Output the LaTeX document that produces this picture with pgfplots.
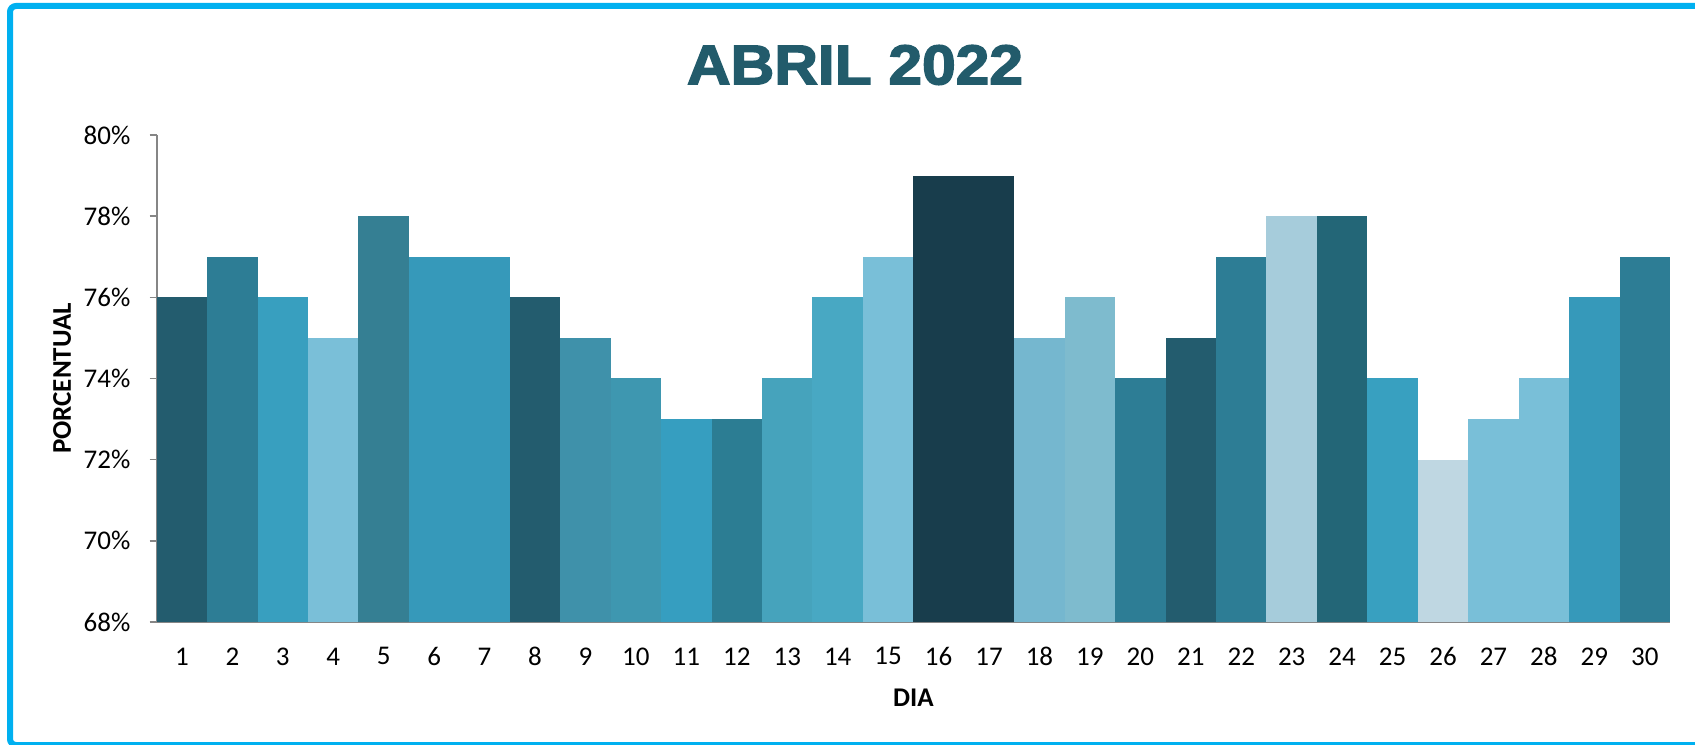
\documentclass[border=0pt]{standalone}
\usepackage{fontspec}
\setmainfont{Carlito}
\newfontfamily\titlefont[FakeBold=2.6]{Liberation Sans Bold}
\usepackage{pgfplots}
\pgfplotsset{compat=1.18}

\definecolor{frame}{HTML}{00B0F0}
\definecolor{axgray}{HTML}{868686}
\definecolor{titlec}{HTML}{225B6B}
% bar colours, one per day
\definecolor{c1}{HTML}{235C6E}
\definecolor{c2}{HTML}{2D7D95}
\definecolor{c3}{HTML}{389FBF}
\definecolor{c4}{HTML}{7ABFD8}
\definecolor{c5}{HTML}{357F93}
\definecolor{c6}{HTML}{3699BA}
\definecolor{c7}{HTML}{3699BA}
\definecolor{c8}{HTML}{235C6E}
\definecolor{c9}{HTML}{3F91AA}
\definecolor{c10}{HTML}{3E97B0}
\definecolor{c11}{HTML}{369EC0}
\definecolor{c12}{HTML}{2C7D93}
\definecolor{c13}{HTML}{46A3BC}
\definecolor{c14}{HTML}{48A8C3}
\definecolor{c15}{HTML}{79BFD8}
\definecolor{c16}{HTML}{183D4C}
\definecolor{c17}{HTML}{183D4C}
\definecolor{c18}{HTML}{75B7CF}
\definecolor{c19}{HTML}{7EBBCE}
\definecolor{c20}{HTML}{2D7D95}
\definecolor{c21}{HTML}{235C6E}
\definecolor{c22}{HTML}{2D7D95}
\definecolor{c23}{HTML}{A6CCDB}
\definecolor{c24}{HTML}{236677}
\definecolor{c25}{HTML}{38A0C0}
\definecolor{c26}{HTML}{BFD7E2}
\definecolor{c27}{HTML}{79BFD8}
\definecolor{c28}{HTML}{79BFD8}
\definecolor{c29}{HTML}{3699BA}
\definecolor{c30}{HTML}{2D7D95}

\begin{document}
\begin{tikzpicture}
\useasboundingbox (0,0) rectangle (847.5pt,372pt);
\draw[frame, line width=3pt, rounded corners=3pt] (5pt,-0.5pt) rectangle (900pt,369pt);

\node[titlec, anchor=center, inner sep=0pt] at (427.5pt,339.5pt)
  {\scalebox{1.08}[1]{\titlefont\fontsize{28}{30}\selectfont ABRIL 2022}};

\begin{axis}[
    at={(78.35pt,61pt)}, anchor=south west,
    scale only axis,
    width=756.65pt, height=243.5pt,
    xmin=0.5, xmax=30.5,
    ymin=68, ymax=80,
    ybar, bar width=1, bar shift=0pt,
    axis x line*=bottom, axis y line*=left,
    axis line style={axgray, line width=1pt, -},
    xtick={1,...,30},
    ytick={68,70,72,74,76,78,80},
    yticklabels={68\%,70\%,72\%,74\%,76\%,78\%,80\%},
    x tick style={draw=none},
    y tick style={axgray, line width=0.8pt},
    tick align=outside,
    major tick length=3.5pt,
    /pgf/number format/assume math mode=true,
    tick label style={font=\fontsize{13.5}{16}\selectfont, black},
    xticklabel style={anchor=center, inner sep=0pt, yshift=-13.7pt},
    yticklabel style={anchor=east, inner sep=0pt, xshift=-9.5pt},
    xlabel={DIA},
    ylabel={PORCENTUAL},
    label style={font=\fontsize{13.5}{16}\selectfont\bfseries},
    xlabel style={at={(axis description cs:0.5,0)}, anchor=center, inner sep=0pt, yshift=-38pt},
    ylabel style={at={(axis description cs:0,0.5)}, anchor=center, inner sep=0pt, yshift=47.3pt},
    every axis plot/.append style={draw=none},
    clip=true,
]
\addplot[fill=c1]  coordinates {(1,76)};
\addplot[fill=c2]  coordinates {(2,77)};
\addplot[fill=c3]  coordinates {(3,76)};
\addplot[fill=c4]  coordinates {(4,75)};
\addplot[fill=c5]  coordinates {(5,78)};
\addplot[fill=c6]  coordinates {(6,77)};
\addplot[fill=c7]  coordinates {(7,77)};
\addplot[fill=c8]  coordinates {(8,76)};
\addplot[fill=c9]  coordinates {(9,75)};
\addplot[fill=c10] coordinates {(10,74)};
\addplot[fill=c11] coordinates {(11,73)};
\addplot[fill=c12] coordinates {(12,73)};
\addplot[fill=c13] coordinates {(13,74)};
\addplot[fill=c14] coordinates {(14,76)};
\addplot[fill=c15] coordinates {(15,77)};
\addplot[fill=c16] coordinates {(16,79)};
\addplot[fill=c17] coordinates {(17,79)};
\addplot[fill=c18] coordinates {(18,75)};
\addplot[fill=c19] coordinates {(19,76)};
\addplot[fill=c20] coordinates {(20,74)};
\addplot[fill=c21] coordinates {(21,75)};
\addplot[fill=c22] coordinates {(22,77)};
\addplot[fill=c23] coordinates {(23,78)};
\addplot[fill=c24] coordinates {(24,78)};
\addplot[fill=c25] coordinates {(25,74)};
\addplot[fill=c26] coordinates {(26,72)};
\addplot[fill=c27] coordinates {(27,73)};
\addplot[fill=c28] coordinates {(28,74)};
\addplot[fill=c29] coordinates {(29,76)};
\addplot[fill=c30] coordinates {(30,77)};
\end{axis}
\end{tikzpicture}
\end{document}
